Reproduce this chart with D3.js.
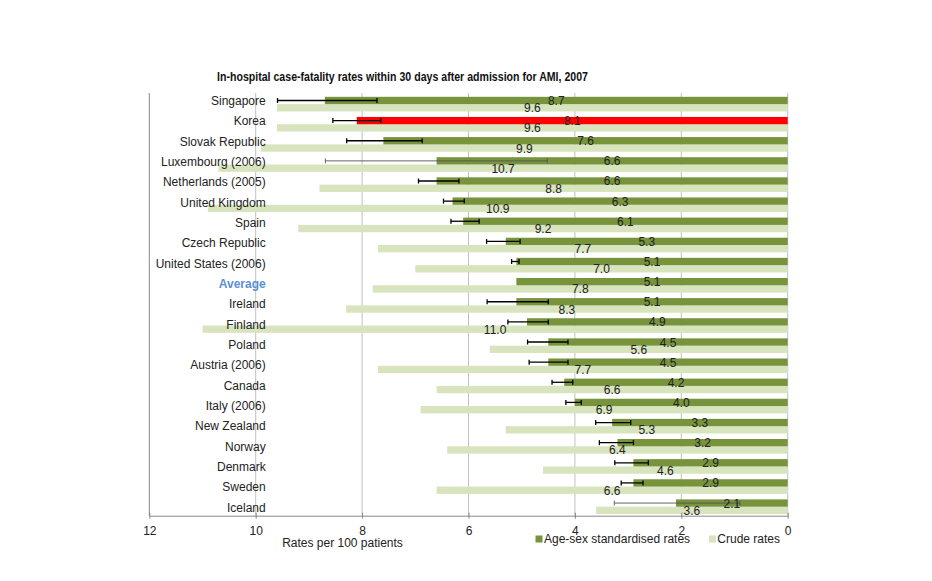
<!DOCTYPE html>
<html><head><meta charset="utf-8">
<script src="https://cdn.jsdelivr.net/npm/d3@7"></script>
<style>
html,body{margin:0;padding:0;background:#fff;}
svg text{font-family:Arial,"Liberation Sans",sans-serif;}
</style></head>
<body>
<svg id="chart" width="932" height="581"></svg>
<script>
const countries = ["Singapore","Korea","Slovak Republic","Luxembourg (2006)","Netherlands (2005)","United Kingdom","Spain","Czech Republic","United States (2006)","Average","Ireland","Finland","Poland","Austria (2006)","Canada","Italy (2006)","New Zealand","Norway","Denmark","Sweden","Iceland"];
const standardised = [8.7,8.1,7.6,6.6,6.6,6.3,6.1,5.3,5.1,5.1,5.1,4.9,4.5,4.5,4.2,4.0,3.3,3.2,2.9,2.9,2.1];
const crude = [9.6,9.6,9.9,10.7,8.8,10.9,9.2,7.7,7.0,7.8,8.3,11.0,5.6,7.7,6.6,6.9,5.3,6.4,4.6,6.6,3.6];
const ciLow  = [7.72,7.65,6.87,4.52,6.18,6.08,5.80,5.03,5.05,null,4.50,4.50,4.13,4.13,4.04,3.88,2.95,2.90,2.62,2.72,0.90];
const ciHigh = [9.59,8.55,8.29,8.69,6.94,6.47,6.33,5.66,5.19,null,5.65,5.26,4.89,4.86,4.43,4.17,3.61,3.54,3.25,3.13,3.26];
const xTicks = [12,10,8,6,4,2,0];
const highlight = "Korea";
const averageLabel = "Average";
const thinErrorBars = ["Luxembourg (2006)","Iceland"];
const title = "In-hospital case-fatality rates within 30 days after admission for AMI, 2007";
const xTitle = "Rates per 100 patients";
const legendNames = ["Age-sex standardised rates","Crude rates"];

const colDark = "#77933c", colLight = "#d7e4bd", colRed = "#ff0000";

const svg = d3.select("#chart");
const x = d3.scaleLinear().domain([12,0]).range([149.3,787.7]);
const y = d3.scaleBand().domain(countries).range([93,515.7]).paddingInner(0).paddingOuter(0);
const yLab = d3.scalePoint().domain(countries).range([105,511.7]);
const bw = y.bandwidth();
const darkOff = bw*0.19, barH = bw*0.363, crudeOff = darkOff + barH;

const data = countries.map((c,i)=>({c, s:standardised[i], cr:crude[i], lo:ciLow[i], hi:ciHigh[i]}));

// gridlines
svg.append("g").selectAll("line").data(xTicks.filter(t=>t!==12)).join("line")
  .attr("x1",d=>x(d)).attr("x2",d=>x(d)).attr("y1",93).attr("y2",515.7)
  .attr("stroke","#c0c0c0").attr("stroke-width",1);

// crude bars
svg.append("g").selectAll("rect").data(data).join("rect")
  .attr("x",d=>x(d.cr)).attr("width",d=>x(0)-x(d.cr))
  .attr("y",d=>y(d.c)+crudeOff).attr("height",barH)
  .attr("fill",colLight);
// standardised bars
svg.append("g").selectAll("rect").data(data).join("rect")
  .attr("x",d=>x(d.s)).attr("width",d=>x(0)-x(d.s))
  .attr("y",d=>y(d.c)+darkOff).attr("height",barH)
  .attr("fill",d=>d.c===highlight?colRed:colDark);

// error bars
const eb = svg.append("g").selectAll("g").data(data.filter(d=>d.lo!=null)).join("g");
const ebCol = d=>thinErrorBars.includes(d.c)?"#555":"#000";
const ebW = d=>thinErrorBars.includes(d.c)?0.9:1.3;
eb.append("line").attr("x1",d=>x(d.hi)).attr("x2",d=>x(d.lo))
  .attr("y1",d=>y(d.c)+darkOff+barH/2).attr("y2",d=>y(d.c)+darkOff+barH/2)
  .attr("stroke",ebCol).attr("stroke-width",ebW);
["hi","lo"].forEach(k=>{
  eb.append("line").attr("x1",d=>x(d[k])).attr("x2",d=>x(d[k]))
    .attr("y1",d=>y(d.c)+darkOff+barH/2-2.5).attr("y2",d=>y(d.c)+darkOff+barH/2+2.5)
    .attr("stroke",ebCol).attr("stroke-width",ebW);
});

// data labels
svg.append("g").selectAll("text").data(data).join("text")
  .attr("x",d=>(x(d.s)+x(0))/2).attr("y",d=>y(d.c)+darkOff+barH/2+4.5)
  .attr("text-anchor","middle").attr("font-size",12).attr("fill","#222")
  .text(d=>d.s.toFixed(1));
svg.append("g").selectAll("text").data(data).join("text")
  .attr("x",d=>(x(d.cr)+x(0))/2).attr("y",d=>y(d.c)+crudeOff+barH/2+4.5)
  .attr("text-anchor","middle").attr("font-size",12).attr("fill","#222")
  .text(d=>d.cr.toFixed(1));

// left axis line
svg.append("line").attr("x1",x(12)).attr("x2",x(12)).attr("y1",93).attr("y2",515.7)
  .attr("stroke","#888").attr("stroke-width",1);

// category labels
svg.append("g").selectAll("text").data(countries).join("text")
  .attr("x",265.7).attr("y",d=>yLab(d))
  .attr("text-anchor","end").attr("font-size",12)
  .attr("font-weight",d=>d===averageLabel?"bold":"normal")
  .attr("fill",d=>d===averageLabel?"#5b8fd4":"#222")
  .text(d=>d);

// bottom axis
const ax = svg.append("g").attr("transform","translate(0,515.7)")
  .call(d3.axisBottom(x).tickValues(xTicks).tickFormat(d3.format("d")).tickSize(4).tickSizeOuter(0));
ax.select(".domain").attr("stroke","#888");
ax.selectAll(".tick line").attr("stroke","#888").attr("y1",-3).attr("y2",3);
ax.selectAll(".tick text").attr("font-size",12).attr("fill","#222").attr("dy",0).attr("y",19.5)
  .attr("font-family",'Arial,"Liberation Sans",sans-serif');

svg.append("text").attr("x",342.5).attr("y",546.7).attr("text-anchor","middle")
  .attr("font-size",12).attr("fill","#222").text(xTitle);

// legend
const lg = [{n:legendNames[0],c:colDark,x:535.5,tx:544},{n:legendNames[1],c:colLight,x:709,tx:717.3}];
const lgG = svg.append("g").selectAll("g").data(lg).join("g");
lgG.append("rect").attr("x",d=>d.x).attr("y",535.5).attr("width",7).attr("height",7).attr("fill",d=>d.c);
lgG.append("text").attr("x",d=>d.tx).attr("y",543).attr("font-size",12).attr("fill","#222").text(d=>d.n);

// title
svg.append("text").attr("x",402.5).attr("y",81).attr("text-anchor","middle")
  .attr("font-size",13.5).attr("font-weight","bold").attr("fill","#111")
  .attr("textLength",371).attr("lengthAdjust","spacingAndGlyphs").text(title);
</script>
</body></html>
